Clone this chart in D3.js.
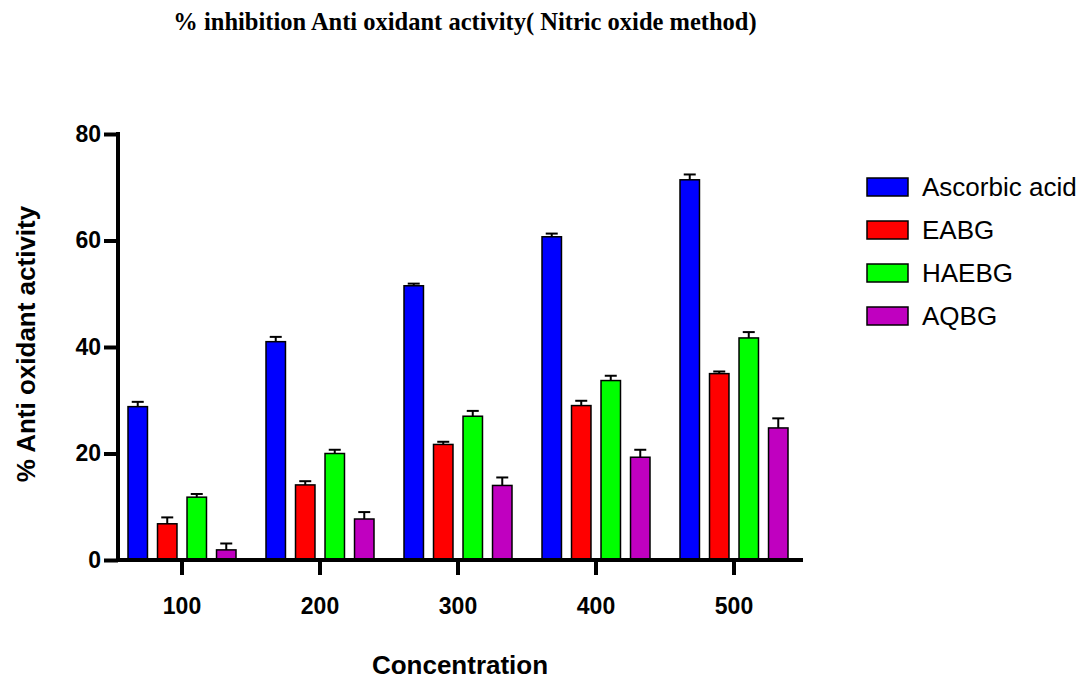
<!DOCTYPE html>
<html>
<head>
<meta charset="utf-8">
<script src="https://cdn.jsdelivr.net/npm/d3@7"></script>
<style>
  body { margin: 0; background: #fff; }
  text { font-family: "Liberation Sans", Arial, sans-serif; }
</style>
</head>
<body>
<div id="chart"></div>
<script>
// data
const concentrations = ["100", "200", "300", "400", "500"]
const seriesNames = ["Ascorbic acid", "EABG", "HAEBG", "AQBG"]
const seriesColors = ["#0000ff", "#ff0000", "#00ff00", "#c000c0"]
const ascorbic = [28.8, 41.0, 51.5, 60.7, 71.4]
const eabg = [6.8, 14.1, 21.7, 29.0, 35.0]
const haebg = [11.8, 20.0, 27.0, 33.7, 41.7]
const aqbg = [1.9, 7.7, 14.0, 19.3, 24.8]
const ascorbicErr = [0.9, 0.9, 0.4, 0.6, 1.0]
const eabgErr = [1.2, 0.7, 0.5, 0.9, 0.4]
const haebgErr = [0.6, 0.7, 1.0, 0.9, 1.1]
const aqbgErr = [1.2, 1.3, 1.5, 1.4, 1.8]
const yTicks = [0, 20, 40, 60, 80]

const values = [ascorbic, eabg, haebg, aqbg]
const errors = [ascorbicErr, eabgErr, haebgErr, aqbgErr]

const width = 1088, height = 681

const svg = d3.select("#chart")
  .append("svg")
  .attr("width", width)
  .attr("height", height)

// scales
const x = d3.scaleBand()
  .domain(concentrations)
  .range([113, 803])

const xInner = d3.scaleBand()
  .domain(seriesNames)
  .range([-54, 54])
  .paddingInner(0.34)

const y = d3.scaleLinear()
  .domain([0, 80])
  .range([560, 134])

// flatten for bars
let data = []
concentrations.forEach((c, i) => {
  seriesNames.forEach((s, j) => {
    data.push({conc: c, series: s, val: values[j][i], err: errors[j][i], color: seriesColors[j]})
  })
})

const barX = d => x(d.conc) + x.bandwidth() / 2 + xInner(d.series)
const barMid = d => barX(d) + xInner.bandwidth() / 2

// bars
svg.selectAll("rect.bar")
  .data(data)
  .enter()
  .append("rect")
    .attr("class", "bar")
    .attr("x", barX)
    .attr("y", d => y(d.val))
    .attr("width", xInner.bandwidth())
    .attr("height", d => y(0) - y(d.val))
    .attr("fill", d => d.color)
    .attr("stroke", "#000")
    .attr("stroke-width", 1.5)

// error bars (upper only)
const capW = 12
svg.selectAll("line.errv")
  .data(data)
  .enter()
  .append("line")
    .attr("x1", barMid)
    .attr("x2", barMid)
    .attr("y1", d => y(d.val))
    .attr("y2", d => y(d.val + d.err))
    .attr("stroke", "#000")
    .attr("stroke-width", 2)

svg.selectAll("line.errc")
  .data(data)
  .enter()
  .append("line")
    .attr("x1", d => barMid(d) - capW / 2)
    .attr("x2", d => barMid(d) + capW / 2)
    .attr("y1", d => y(d.val + d.err))
    .attr("y2", d => y(d.val + d.err))
    .attr("stroke", "#000")
    .attr("stroke-width", 2)

// y axis
const yAxis = svg.append("g")
  .attr("transform", "translate(118,0)")
  .call(d3.axisLeft(y).tickValues(yTicks).tickSize(14).tickPadding(3))
yAxis.select(".domain").attr("stroke-width", 4).attr("d", "M0," + (y(80) - 2) + "V" + (y(0) + 2))
yAxis.selectAll(".tick line").attr("stroke-width", 4)
yAxis.selectAll(".tick text")
  .style("font-size", "23px")
  .style("font-weight", "bold")
  .attr("fill", "#000")

// x axis
const xAxis = svg.append("g")
  .attr("transform", "translate(0,560)")
  .call(d3.axisBottom(x).tickSize(15).tickPadding(23))
xAxis.select(".domain").attr("stroke-width", 4).attr("d", "M116,0H803")
xAxis.selectAll(".tick line").attr("stroke-width", 4)
xAxis.selectAll(".tick text")
  .style("font-size", "23px")
  .style("font-weight", "bold")
  .attr("fill", "#000")

// axis titles
svg.append("text")
  .attr("x", 460)
  .attr("y", 674)
  .attr("text-anchor", "middle")
  .style("font-size", "26px")
  .style("font-weight", "bold")
  .text("Concentration")

svg.append("text")
  .attr("transform", "translate(35,344) rotate(-90)")
  .attr("text-anchor", "middle")
  .style("font-size", "26px")
  .style("font-weight", "bold")
  .text("% Anti oxidant activity")

// title
svg.append("text")
  .attr("x", 465)
  .attr("y", 30)
  .attr("text-anchor", "middle")
  .style("font-family", "'Liberation Serif', 'Times New Roman', serif")
  .style("font-size", "24.5px")
  .style("font-weight", "bold")
  .text("% inhibition Anti oxidant activity( Nitric oxide method)")

// legend
const legend = svg.selectAll("g.legend")
  .data(seriesNames)
  .enter()
  .append("g")
    .attr("class", "legend")
    .attr("transform", (d, i) => "translate(867," + (187 + i * 43) + ")")

legend.append("rect")
  .attr("x", 0)
  .attr("y", -9)
  .attr("width", 41)
  .attr("height", 18)
  .attr("fill", (d, i) => seriesColors[i])
  .attr("stroke", "#000")
  .attr("stroke-width", 1.5)

legend.append("text")
  .attr("x", 55)
  .attr("y", 9)
  .style("font-size", "26px")
  .text(d => d)
</script>
</body>
</html>
